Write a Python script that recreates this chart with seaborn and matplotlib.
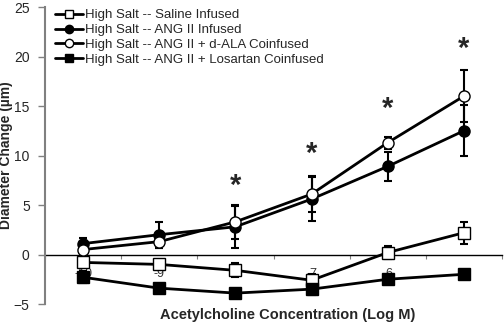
import matplotlib
matplotlib.use("Agg")
import matplotlib.pyplot as plt
import numpy as np
import pandas as pd
import seaborn as sns

# ---- data ----
log_conc = ["-10", "-9", "-8", "-7", "-6", "-5"]
saline_mean = [-0.8, -1.0, -1.6, -2.6, 0.2, 2.2]
saline_sem = [0.5, 0.3, 0.7, 0.6, 0.7, 1.1]
ang_mean = [1.1, 2.0, 2.8, 5.6, 8.9, 12.5]
ang_sem = [0.6, 1.3, 2.1, 2.2, 1.5, 2.6]
dala_mean = [0.5, 1.3, 3.3, 6.1, 11.3, 16.0]
dala_sem = [0.4, 0.6, 1.7, 1.8, 0.6, 2.6]
losartan_mean = [-2.3, -3.4, -3.9, -3.5, -2.5, -2.0]
losartan_sem = [0.6, 0.3, 0.3, 0.6, 0.3, 0.3]
star_idx = [2, 3, 4, 5]
star_y = [6.9, 10.2, 14.7, 20.8]

labels = [
    "High Salt -- Saline Infused",
    "High Salt -- ANG II Infused",
    "High Salt -- ANG II + d-ALA Coinfused",
    "High Salt -- ANG II + Losartan Coinfused",
]

sns.set_style("white")
plt.rcParams["font.family"] = ["Liberation Sans", "DejaVu Sans"]

fig = plt.figure(figsize=(5.04, 3.24), dpi=100)
ax = fig.add_axes([45 / 504, 20 / 324, 457 / 504, 297 / 324])

x = np.arange(len(log_conc)) + 0.5
series = [
    (labels[0], saline_mean, saline_sem, "s", "white"),
    (labels[1], ang_mean, ang_sem, "o", "black"),
    (labels[2], dala_mean, dala_sem, "o", "white"),
    (labels[3], losartan_mean, losartan_sem, "s", "black"),
]

for label, mean, sem, marker, face in series:
    df = pd.DataFrame({"x": x, "y": mean})
    ax.errorbar(x, mean, yerr=sem, fmt="none", ecolor="black",
                elinewidth=1.5, capsize=3, capthick=1.5, zorder=3)
    sns.lineplot(data=df, x="x", y="y", ax=ax, color="black", lw=2,
                 marker=marker, markersize=8, markerfacecolor=face,
                 markeredgecolor="black", markeredgewidth=1,
                 label=label, zorder=5)

# significance stars
for i, yv in zip(star_idx, star_y):
    ax.text(x[i], yv, "*", ha="center", va="center", fontsize=21,
            fontweight="bold", zorder=6)

# axes
ax.set_xlim(0, len(log_conc))
ax.set_ylim(-5, 25)
ax.set_yticks([-5, 0, 5, 10, 15, 20, 25])
ax.spines["top"].set_visible(False)
ax.spines["right"].set_visible(False)
ax.spines["left"].set_color("#808080")
ax.spines["left"].set_linewidth(1.5)
ax.spines["bottom"].set_position(("data", 0))
ax.spines["bottom"].set_color("black")
ax.spines["bottom"].set_linewidth(1)
ax.spines["bottom"].set_zorder(1)

ax.set_xticks(np.arange(len(log_conc) + 1))
ax.set_xticklabels([])
ax.set_xticks(x, minor=True)
ax.set_xticklabels(log_conc, minor=True)
ax.tick_params(axis="x", which="major", direction="out", length=3,
               color="#808080", bottom=True)
ax.tick_params(axis="x", which="minor", length=0, pad=10, labelsize=9,
               labelcolor="#333333", bottom=True)
for t in ax.get_xticklabels(minor=True):
    t.set_zorder(2)
ax.tick_params(axis="y", direction="out", length=5, color="#808080",
               width=1, labelsize=10, pad=6, left=True)

ax.set_xlabel("Acetylcholine Concentration (Log M)", fontsize=10.5,
              fontweight="bold")
ax.xaxis.set_label_coords(0.53, -0.015)
ax.set_ylabel("Diameter Change (\u00b5m)", fontsize=10, fontweight="bold")
ax.yaxis.set_label_coords(-0.071, 0.5)

leg = ax.legend(loc="upper left", bbox_to_anchor=(0.022, 0.993), frameon=False,
                fontsize=9.5, handlelength=2.1, handletextpad=0.15,
                labelspacing=0.2, borderpad=0, borderaxespad=0)
for h in leg.legend_handles:
    h.set_markersize(6)

fig.savefig("out.png", dpi=100)
